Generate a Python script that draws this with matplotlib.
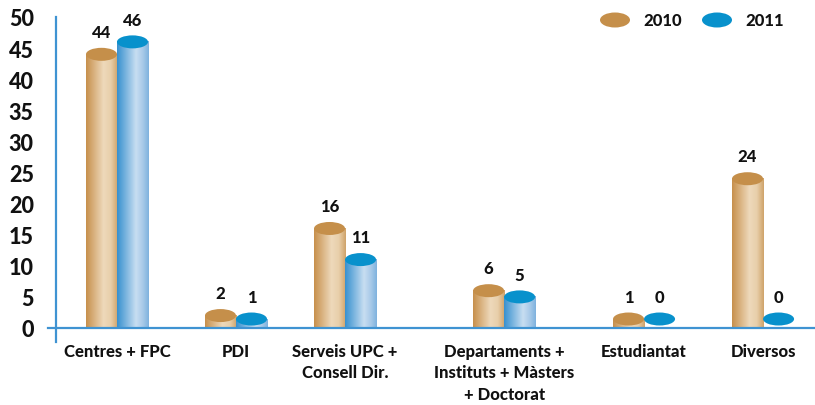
import numpy as np
import matplotlib
matplotlib.use("Agg")
import matplotlib.pyplot as plt
from matplotlib.patches import Ellipse
from matplotlib.colors import LinearSegmentedColormap
from matplotlib.lines import Line2D

# ---- data ----
categories = ["Centres + FPC", "PDI", "Serveis UPC +\nConsell Dir.",
              "Departaments +\nInstituts + Màsters\n+ Doctorat",
              "Estudiantat", "Diversos"]
series_names = ["2010", "2011"]
values_2010 = [44, 2, 16, 6, 1, 24]
values_2011 = [46, 1, 11, 5, 0, 0]
y_ticks = [0, 5, 10, 15, 20, 25, 30, 35, 40, 45, 50]

# ---- layout / style ----
cat_pos = [0, 0.921, 1.765, 2.996, 4.079, 5.0]
bar_w = 0.24
top_colors = ["#c58f4a", "#0891cc"]
body_cmaps = [
    LinearSegmentedColormap.from_list("tan", [(0, "#c7904c"), (0.55, "#eed9bb"),
                                             (0.78, "#e8cfaa"), (1, "#cfa36a")]),
    LinearSegmentedColormap.from_list("blu", [(0, "#3791cf"), (0.6, "#c8def1"),
                                             (0.8, "#aacbe9"), (1, "#7fb2de")]),
]
axis_color = "#3f93d2"
weight = "black"

plt.rcParams["font.family"] = ["Lato", "DejaVu Sans"]
W, H = 815, 406
fig = plt.figure(figsize=(W / 100, H / 100), dpi=100)
ax = fig.add_axes([56 / W, 77 / H, 759 / W, 311 / H])
xmin, xmax = -0.472, 5.402
ax.set_xlim(xmin, xmax)
ax.set_ylim(0, 50)

ell_h = 13 / 311 * 50  # ellipse height in data units
grad = np.linspace(0, 1, 128).reshape(1, -1)

for s, vals in enumerate([values_2010, values_2011]):
    for i, v in enumerate(vals):
        xc = cat_pos[i] + (s - 0.5) * bar_w
        x0, x1 = xc - bar_w / 2, xc + bar_w / 2
        top = max(v, ell_h / 2 + 0.4)
        if v > 0:
            ax.imshow(grad, cmap=body_cmaps[s], extent=[x0, x1, 0, top],
                      aspect="auto", interpolation="bilinear", zorder=2)
        ax.add_patch(Ellipse((xc, top), bar_w, ell_h, facecolor=top_colors[s],
                             edgecolor="none", zorder=3))
        ax.annotate(str(v), (xc, top), xytext=(0, 16), textcoords="offset points",
                    ha="center", va="center", fontsize=12, fontweight=weight,
                    color="#111111", zorder=4)

ax.set_xlim(xmin, xmax)
ax.set_ylim(0, 50)
for sp in ax.spines.values():
    sp.set_visible(False)

ax.set_yticks(y_ticks)
ax.set_yticklabels([str(t) for t in y_ticks], fontsize=15.5, fontweight=weight,
                   color="#111111")
ax.set_xticks(cat_pos)
ax.set_xticklabels(categories, fontsize=12, fontweight=weight, color="#111111",
                   linespacing=1.4)
ax.tick_params(axis="y", length=0, pad=16)
ax.tick_params(axis="x", length=0, pad=11)

# axis lines
ax.add_line(Line2D([-8 / 759, 1], [0, 0], transform=ax.transAxes, color=axis_color,
                   lw=1.6, clip_on=False, zorder=5))
ax.add_line(Line2D([0, 0], [1, -14 / 311], transform=ax.transAxes, color=axis_color,
                   lw=1.6, clip_on=False, zorder=5))

# legend
leg_x = [615, 717]
for s in range(2):
    fig.patches.append(Ellipse((leg_x[s] / W, 1 - 21 / H), 30 / W, 15 / H,
                               transform=fig.transFigure, facecolor=top_colors[s],
                               edgecolor="none"))
    fig.text((leg_x[s] + 28) / W, 1 - 21 / H, series_names[s], ha="left", va="center",
             fontsize=12, fontweight=weight, color="#111111")

fig.savefig("out.png", dpi=100)
